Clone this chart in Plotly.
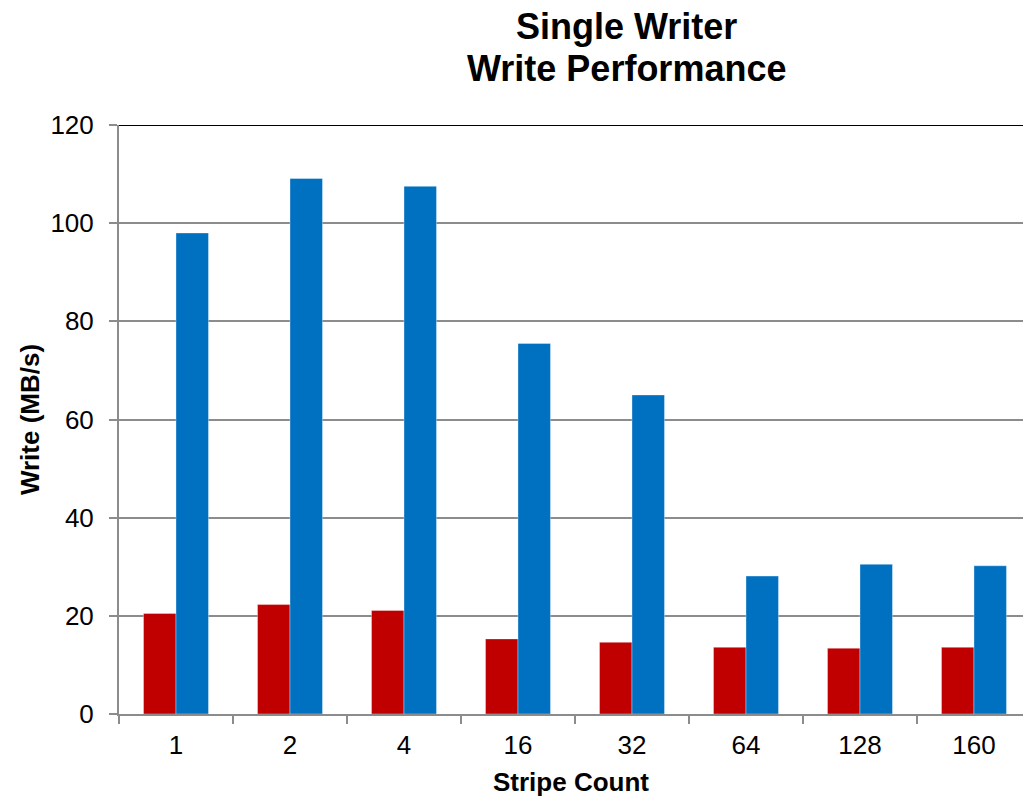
import plotly.graph_objects as go

# Stripe counts tested and measured write throughput (MB/s)
stripe_counts = ["1", "2", "4", "16", "32", "64", "128", "160"]
write_red = [20.5, 22.3, 21.1, 15.3, 14.6, 13.6, 13.4, 13.6]
write_blue = [98.0, 109.1, 107.5, 75.5, 65.0, 28.1, 30.5, 30.2]

y_ticks = [0, 20, 40, 60, 80, 100, 120]
y_max = 120

title_lines = ["Single Writer", "Write Performance"]

RED = "#C00000"
BLUE = "#0070C0"
AXIS_GRAY = "#8C8C8C"
FONT = "Liberation Sans, Arial, sans-serif"

W, H = 1023, 797
M_L, M_T, M_B = 119, 125, 83

fig = go.Figure()
fig.add_trace(go.Bar(
    x=stripe_counts, y=write_red, name="Red",
    marker=dict(color=RED, line=dict(color="rgba(255,255,255,0.35)", width=1)),
))
fig.add_trace(go.Bar(
    x=stripe_counts, y=write_blue, name="Blue",
    marker=dict(color=BLUE, line=dict(color="rgba(255,255,255,0.35)", width=1)),
))

# black frame line along the top of the plot area
fig.add_shape(type="line", xref="paper", yref="y", x0=0, x1=1, y0=y_max, y1=y_max,
              line=dict(color="black", width=2), layer="above")

# two-line chart title, each line placed on its own
plot_h = H - M_T - M_B
for line, y_px in zip(title_lines, [27, 68]):
    fig.add_annotation(
        text=f"<b>{line}</b>", showarrow=False,
        xref="paper", yref="paper",
        x=(626 - M_L) / (W - M_L), xanchor="center",
        y=(H - M_B - y_px) / plot_h, yanchor="middle",
        font=dict(size=36, family=FONT, color="black"),
    )

fig.update_layout(
    width=W, height=H,
    margin=dict(l=M_L, r=0, t=M_T, b=M_B),
    paper_bgcolor="white", plot_bgcolor="white",
    barmode="group", bargap=0.43, bargroupgap=0,
    showlegend=False,
    font=dict(family=FONT, color="black"),
    xaxis=dict(
        type="category",
        range=[-0.5, 7.43],
        showline=True, linecolor=AXIS_GRAY, linewidth=2,
        ticks="outside", tickson="boundaries", ticklen=8, tickwidth=2, tickcolor=AXIS_GRAY,
        showgrid=False,
        tickfont=dict(size=26, color="black"),
        ticklabelstandoff=7,
        title=dict(text="<b>Stripe Count</b>", font=dict(size=26, color="black"), standoff=15),
    ),
    yaxis=dict(
        range=[0, y_max],
        tickvals=y_ticks,
        showline=True, linecolor=AXIS_GRAY, linewidth=2,
        ticks="outside", ticklen=8, tickwidth=2, tickcolor=AXIS_GRAY,
        showgrid=True, gridcolor=AXIS_GRAY, gridwidth=1.5,
        zeroline=False,
        tickfont=dict(size=26, color="black"),
        ticklabelstandoff=10,
        title=dict(text="<b>Write (MB/s)</b>", font=dict(size=26, color="black"), standoff=3),
    ),
)

fig.write_html("out.html")
